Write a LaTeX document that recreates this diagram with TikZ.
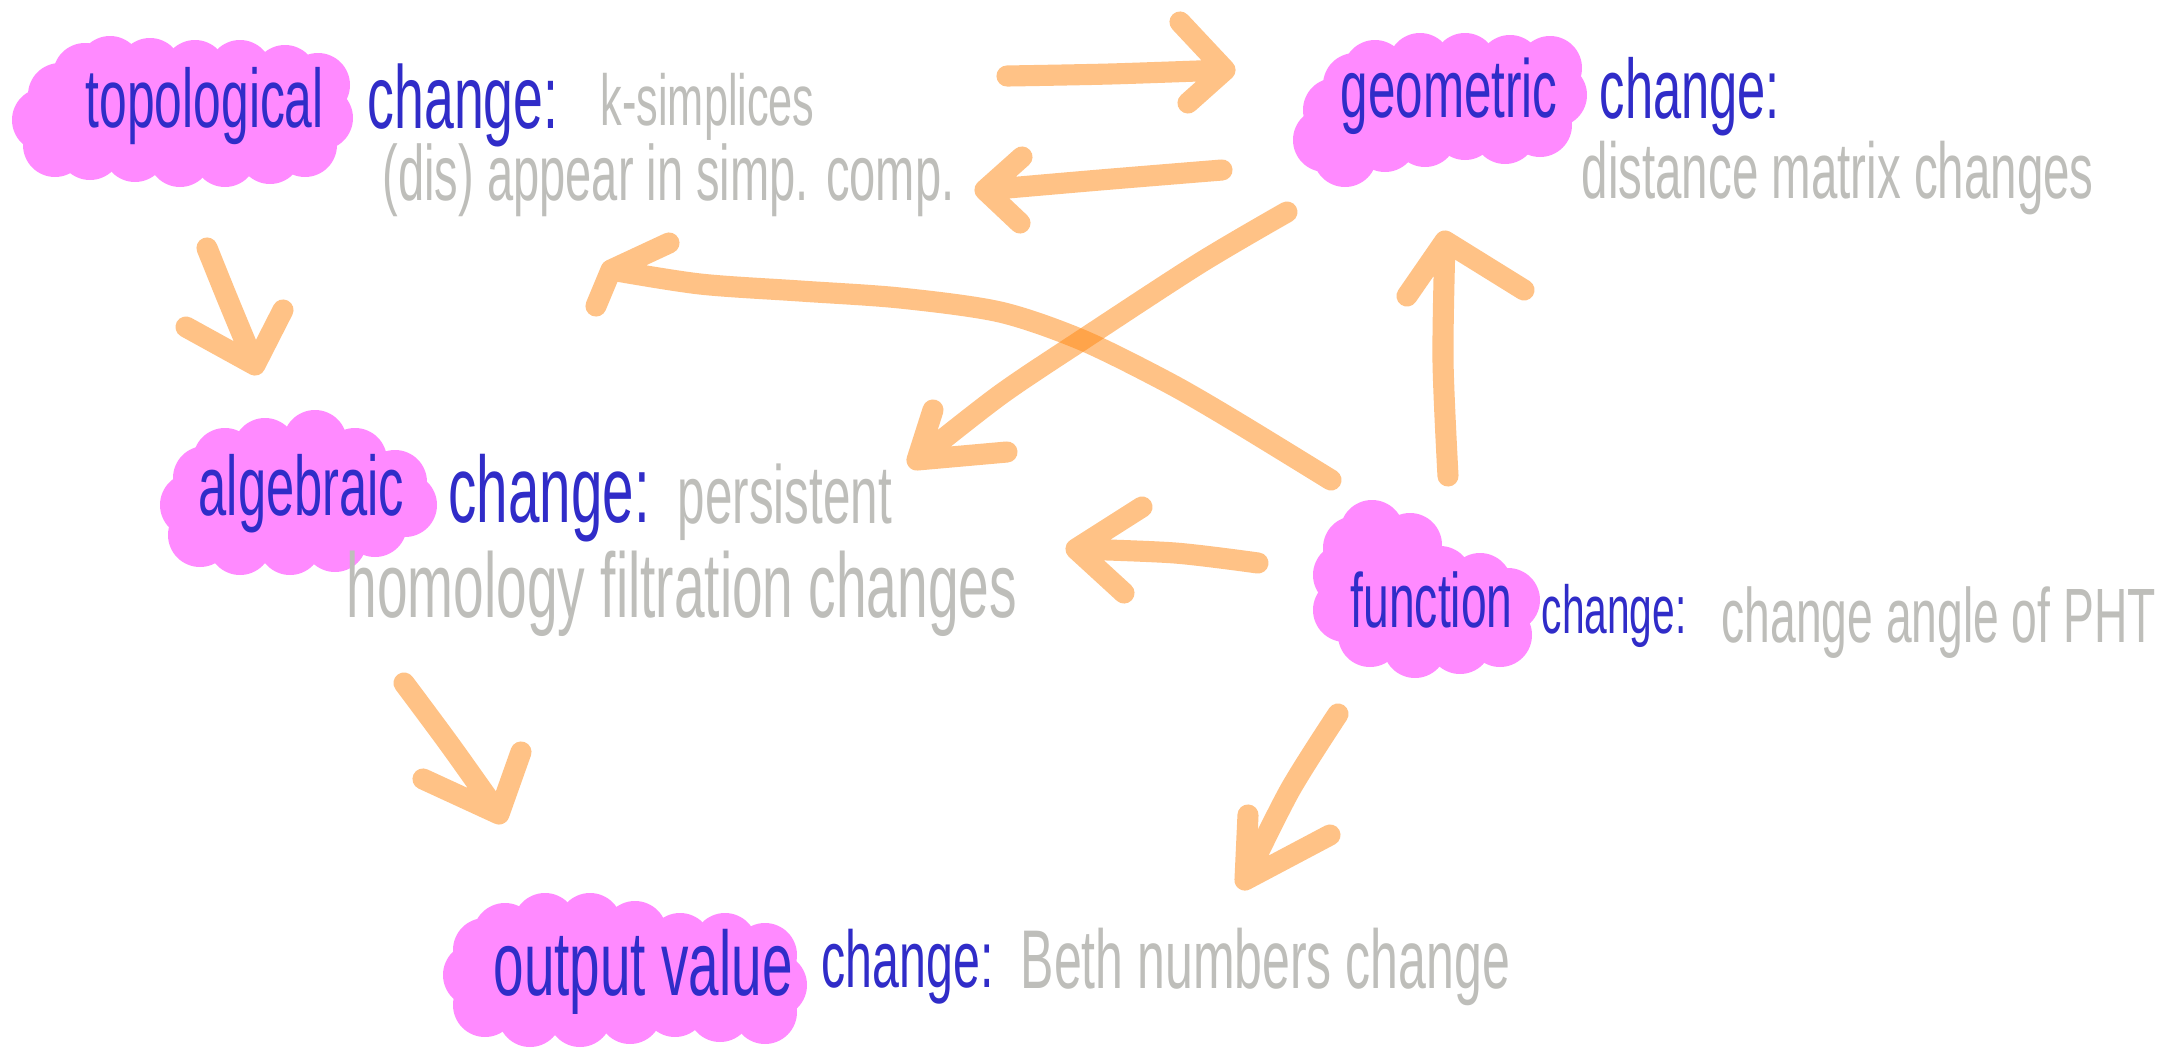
\documentclass[tikz,border=0pt]{standalone}
\usepackage{fontspec}
\newfontfamily\hand[FakeStretch=0.6]{Liberation Sans}
\definecolor{pinkblob}{RGB}{255,138,255}
\definecolor{hblue}{RGB}{48,44,200}
\definecolor{hgrey}{RGB}{190,190,186}
\definecolor{arrorange}{RGB}{255,135,15}
\newcommand\hf[1]{\hand\fontsize{#1}{#1}\selectfont}
\newcommand\blob[2]{%
  \foreach \x/\y in {#1} {\fill[pinkblob] (\x,\y) circle (32);}
  \fill[pinkblob] (#2) \foreach \x/\y in {#1} {-- (\x,\y)} -- cycle;}
\begin{document}
\begin{tikzpicture}[x=0.01cm,y=-0.01cm,
  bluetext/.style={text=hblue, inner sep=0pt, anchor=base west},
  greytext/.style={text=hgrey, inner sep=0pt, anchor=base west},
  arr/.style={draw=arrorange, draw opacity=0.5, line width=6pt, line cap=round, line join=round}]
\useasboundingbox (0,0) rectangle (2162,1051);
\fill[white] (0,0) rectangle (2162,1051);

% ---------- blobs ----------
\blob{110/68,150/70,195/72,240/72,285/77,318/85,321/118,305/145,270/152,225/155,180/155,135/150,90/148,55/145,44/120,60/95,85/75}{110,68}
\blob{1375/72,1420/65,1465/65,1510/67,1550/68,1555/95,1540/125,1505/132,1465/128,1425/135,1385/140,1345/155,1325/140,1335/110,1355/85}{1375,72}
\blob{225/460,265/450,315/442,355/460,395/482,405/505,375/525,335/540,290/543,240/543,200/535,192/505,205/478}{225,460}
\blob{1372/532,1410/545,1440/578,1480/585,1508/600,1500/635,1460/642,1415/646,1370/635,1345/610,1345/575,1355/548}{1372,532}
\blob{505/935,545/925,590/925,635/933,680/945,725/945,765/955,775/985,765/1012,720/1010,675/1005,630/1012,580/1015,530/1015,485/1005,475/975,485/950}{505,935}

% ---------- texts ----------
\node[bluetext, font=\hf{23.6}] (topo) at (85,127) {topological};
\node[bluetext, font=\hf{25.4}] (topoc) at (367,128) {change:};
\node[greytext, font=\hf{20.5}] (topod1) at (600,125) {k-simplices};
\node[greytext, font=\hf{22.3}] (topod2) at (382,200) {(dis) appear in simp. comp.};

\node[bluetext, font=\hf{23.4}] (geo) at (1340,117) {geometric};
\node[bluetext, font=\hf{24}] (geoc) at (1599,118) {change:};
\node[greytext, font=\hf{22.5}] (geod) at (1581,198) {distance matrix changes};

\node[bluetext, font=\hf{24}] (alg) at (198,515) {algebraic};
\node[bluetext, font=\hf{26.8}] (algc) at (448,522) {change:};
\node[greytext, font=\hf{23.4}] (algd1) at (677,523) {persistent};
\node[greytext, font=\hf{26.1}] (algd2) at (346,617) {homology filtration changes};

\node[bluetext, font=\hf{21.9}] (fun) at (1350,627) {function};
\node[bluetext, font=\hf{19.3}] (func) at (1541,633) {change:};
\node[greytext, font=\hf{21.9}] (fund) at (1721,642) {change angle of PHT};

\node[bluetext, font=\hf{26}] (out) at (493,995) {output value};
\node[bluetext, font=\hf{22.9}] (outc) at (821,987) {change:};
\node[greytext, font=\hf{23.7}] (outd) at (1020,988) {Beth numbers change};

% ---------- arrow coordinates ----------
\coordinate (A0) at (207,248);  \coordinate (A1) at (255,365);
\coordinate (B0) at (1007,76);  \coordinate (B1) at (1225,70);
\coordinate (C0) at (1222,170); \coordinate (C1) at (985,190);
\coordinate (D0) at (1331,480); \coordinate (D1) at (611,270);
\coordinate (E0) at (1287,212); \coordinate (E1) at (917,460);
\coordinate (F0) at (1258,563); \coordinate (F1) at (1076,549);
\coordinate (G0) at (1448,476); \coordinate (G1) at (1445,241);
\coordinate (H0) at (404,683);  \coordinate (H1) at (499,814);
\coordinate (I0) at (1338,714); \coordinate (I1) at (1245,880);

% ---------- arrows ----------
% topological -> algebraic
\draw[arr] plot[smooth] coordinates {(A0) (228,300) (A1)}
  (A1) ++(-69,-38) -- (A1) -- ++(28,-55);
% -> geometric
\draw[arr] plot[smooth] coordinates {(B0) (1110,74) (B1)}
  (B1) ++(-45,-48) -- (B1) -- ++(-37,33);
% geometric -> topological
\draw[arr] plot[smooth] coordinates {(C0) (1100,180) (C1)}
  (C1) ++(37,-33) -- (C1) -- ++(35,33);
% function -> topological (long curve)
\draw[arr] plot[smooth] coordinates {(D0) (1233,420) (1167,382) (1082,340) (1000,312) (900,298) (800,291) (700,284) (D1)}
  (D1) ++(58,-27) -- (D1) -- ++(-15,36);
% geometric -> algebraic
\draw[arr] plot[smooth] coordinates {(E0) (1200,263) (1082,340) (1000,395) (E1)}
  (E1) ++(16,-50) -- (E1) -- ++(90,-8);
% function -> algebraic
\draw[arr] plot[smooth] coordinates {(F0) (1175,553) (F1)}
  (F1) ++(66,-42) -- (F1) -- ++(48,44);
% function -> geometric
\draw[arr] plot[smooth] coordinates {(G0) (1443,360) (G1)}
  (G1) ++(-38,55) -- (G1) -- ++(79,49);
% algebraic -> output value
\draw[arr] plot[smooth] coordinates {(H0) (450,745) (H1)}
  (H1) ++(-76,-35) -- (H1) -- ++(22,-62);
% function -> output value
\draw[arr] plot[smooth] coordinates {(I0) (1290,790) (I1)}
  (I1) ++(3,-65) -- (I1) -- ++(85,-45);
\end{tikzpicture}
\end{document}
